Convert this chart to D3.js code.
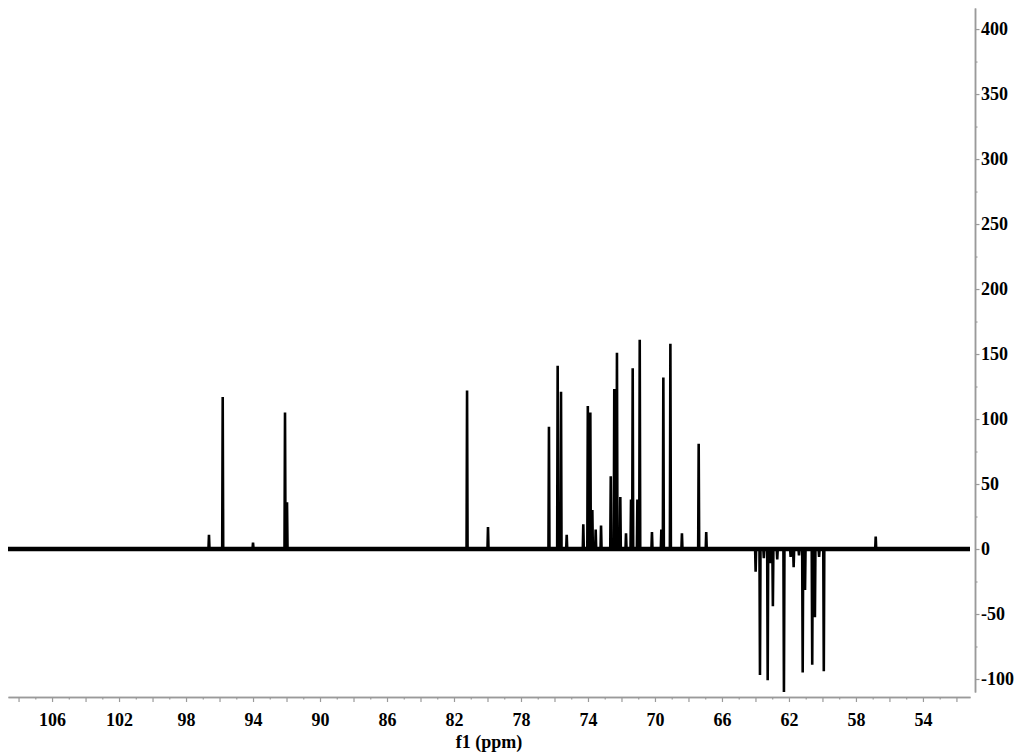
<!DOCTYPE html>
<html>
<head>
<meta charset="utf-8">
<script src="https://cdn.jsdelivr.net/npm/d3@7"></script>
<style>
  html, body { margin: 0; padding: 0; background: #fff; }
  svg { display: block; }
  .lbl { font-family: "Liberation Serif", "Times New Roman", serif; font-weight: bold; font-size: 18px; fill: #000; }
</style>
</head>
<body>
<svg id="chart" width="1024" height="755"></svg>
<script>
// ---- data ----
const peakPpm = [96.63, 95.81, 94.00, 92.09, 91.97, 81.22, 79.97,
  76.33, 75.81, 75.61, 75.27, 74.28, 74.01, 73.86, 73.74, 73.54, 73.22,
  72.64, 72.43, 72.27, 72.07, 71.73, 71.43, 71.33, 71.05, 70.91, 70.18,
  69.62, 69.50, 69.08, 68.39, 67.39, 66.94,
  63.99, 63.73, 63.50, 63.27, 63.13, 62.96, 62.70, 62.30, 61.90, 61.72, 61.40, 61.18, 61.04,
  60.61, 60.45, 60.20, 59.92, 56.82];
const peakHeight = [11, 117, 5, 105, 36, 122, 17,
  94, 141, 121, 11, 19, 110, 105, 30, 15, 18,
  56, 123, 151, 40, 12, 38, 139, 38, 161, 13,
  15, 132, 158, 12, 81, 13,
  -17.5, -97, -7, -101, -11, -44, -8, -110, -6, -14, -5, -95, -31.5,
  -89, -52.5, -6, -94, 9.5];
const xTickMajor = [108, 106, 104, 102, 100, 98, 96, 94, 92, 90, 88, 86, 84, 82, 80, 78, 76, 74, 72, 70, 68, 66, 64, 62, 60, 58, 56, 54, 52];
const xTickMinor = [107, 105, 103, 101, 99, 97, 95, 93, 91, 89, 87, 85, 83, 81, 79, 77, 75, 73, 71, 69, 67, 65, 63, 61, 59, 57, 55, 53];
const xTickLabels = [106, 102, 98, 94, 90, 86, 82, 78, 74, 70, 66, 62, 58, 54];
const yTickMajor = [-100, -50, 0, 50, 100, 150, 200, 250, 300, 350, 400];
const yTickMinor = [-75, -25, 25, 75, 125, 175, 225, 275, 325, 375];
const xDomain = [108.63, 51.19];
const yDomain = [-110, 416.2];
const xTitle = "f1 (ppm)";

// ---- layout ----
const svg = d3.select("#chart");
const x = d3.scaleLinear().domain(xDomain).range([8, 970]);
const y = d3.scaleLinear().domain(yDomain).range([692, 8]);
const axisColor = "#9a9a9a";

// noisy baseline band
svg.append("line")
  .attr("x1", x(xDomain[0])).attr("x2", x(xDomain[1]))
  .attr("y1", y(0)).attr("y2", y(0))
  .attr("stroke", "#000").attr("stroke-width", 4.5);

// spectrum points built from peak list
const hw = 0.03;
const order = d3.range(peakPpm.length).sort((a, b) => peakPpm[b] - peakPpm[a]);
const pts = [[xDomain[0], 0]];
order.forEach(i => {
  pts.push([peakPpm[i] + hw, 0]);
  pts.push([peakPpm[i], peakHeight[i]]);
  pts.push([peakPpm[i] - hw, 0]);
});
pts.push([xDomain[1], 0]);

const line = d3.line().x(d => x(d[0])).y(d => y(d[1]));
svg.append("path")
  .attr("d", line(pts))
  .attr("fill", "none")
  .attr("stroke", "#000")
  .attr("stroke-width", 2.6)
  .attr("stroke-linejoin", "miter");

// ---- x axis ----
const xAxisY = 697;
const gxMinor = svg.append("g").attr("transform", `translate(0,${xAxisY})`)
  .call(d3.axisBottom(x).tickValues(xTickMinor).tickSize(2.5).tickSizeOuter(0).tickFormat(""));
const gx = svg.append("g").attr("transform", `translate(0,${xAxisY})`)
  .call(d3.axisBottom(x).tickValues(xTickMajor).tickSize(5).tickSizeOuter(0)
    .tickFormat(d => xTickLabels.includes(d) ? d : "").tickPadding(11));
[gx, gxMinor].forEach(g => {
  g.select(".domain").attr("stroke", axisColor).attr("stroke-width", 1.5);
  g.selectAll(".tick line").attr("stroke", axisColor).attr("stroke-width", 1.2);
  g.selectAll("text").attr("class", "lbl").attr("font-size", null).attr("font-family", null);
});

svg.append("text").attr("class", "lbl")
  .attr("x", 489).attr("y", 748).attr("text-anchor", "middle")
  .text(xTitle);

// ---- y axis (right) ----
const yAxisX = 975;
const gyMinor = svg.append("g").attr("transform", `translate(${yAxisX},0)`)
  .call(d3.axisRight(y).tickValues(yTickMinor).tickSize(2.5).tickSizeOuter(0).tickFormat(""));
const gy = svg.append("g").attr("transform", `translate(${yAxisX},0)`)
  .call(d3.axisRight(y).tickValues(yTickMajor).tickSize(4.5).tickSizeOuter(0).tickPadding(1.5));
[gy, gyMinor].forEach(g => {
  g.select(".domain").attr("stroke", axisColor).attr("stroke-width", 1.5);
  g.selectAll(".tick line").attr("stroke", axisColor).attr("stroke-width", 1.2);
  g.selectAll("text").attr("class", "lbl").attr("font-size", null).attr("font-family", null);
});
gy.selectAll("text").text(d => d < 0 ? "-" + Math.abs(d) : d);
</script>
</body>
</html>
